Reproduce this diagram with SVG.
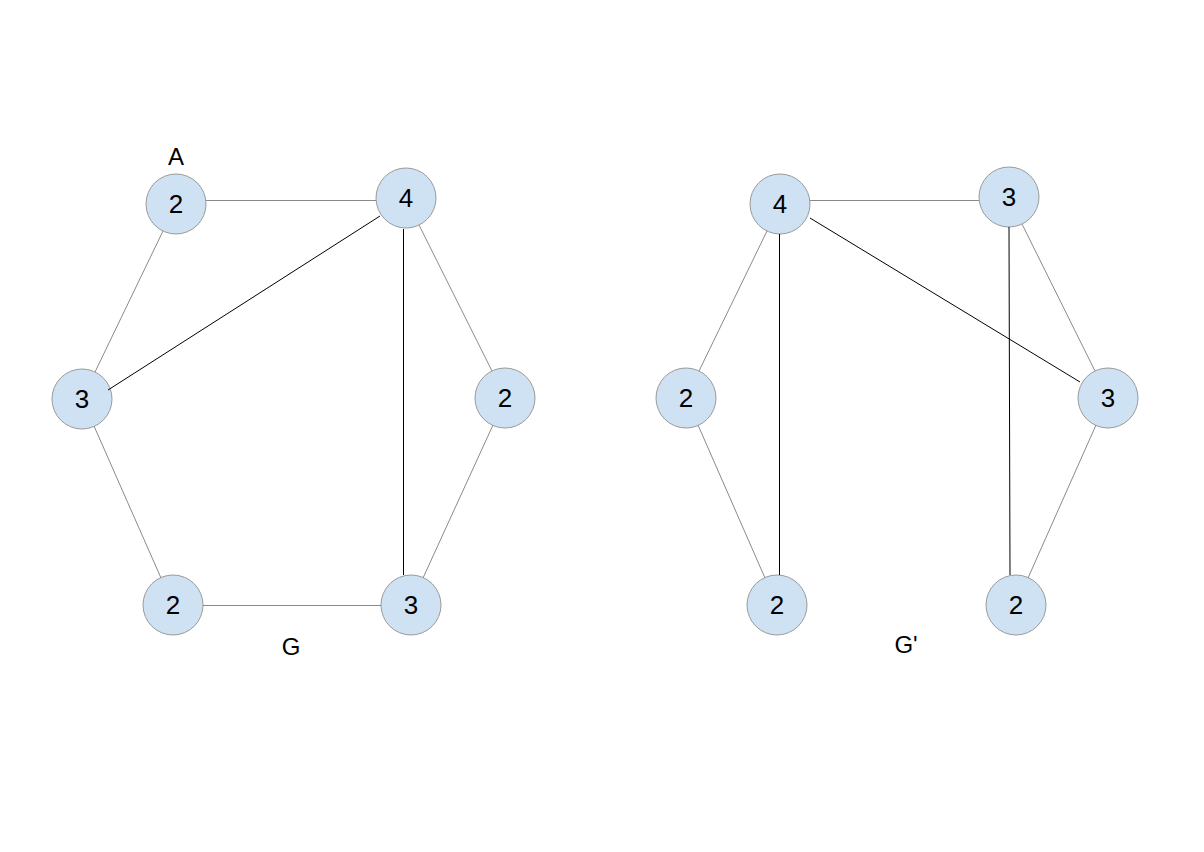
<svg xmlns="http://www.w3.org/2000/svg" width="1204" height="852" viewBox="0 0 1204 852">
<style>
.n{fill:#cfe2f3;stroke:#9a9a9a;stroke-width:1}
.d{font-family:"Liberation Sans",Arial,sans-serif;font-size:26px;text-anchor:middle;fill:#000}
.l{font-family:"Liberation Sans",Arial,sans-serif;font-size:24px;text-anchor:middle;fill:#000}
.g{stroke:#8a8a8a;stroke-width:1;fill:none}
.b{stroke:#000;stroke-width:1;fill:none}
</style>
<rect width="1204" height="852" fill="#fff"/>
<g id="nodes">
<g id="gA"><circle class="n" cx="176" cy="204" r="30"/><text class="d" x="176" y="213">2</text></g>
<g id="g4"><circle class="n" cx="406" cy="198" r="30"/><text class="d" x="406" y="207">4</text></g>
<g id="gL3"><circle class="n" cx="82" cy="399" r="30"/><text class="d" x="82" y="408">3</text></g>
<g id="gR2"><circle class="n" cx="505" cy="398" r="30"/><text class="d" x="505" y="407">2</text></g>
<g id="gBL2"><circle class="n" cx="173" cy="605" r="30"/><text class="d" x="173" y="614">2</text></g>
<g id="gBR3"><circle class="n" cx="411" cy="605" r="30"/><text class="d" x="411" y="614">3</text></g>
<g id="h4"><circle class="n" cx="780" cy="204" r="30"/><text class="d" x="780" y="213">4</text></g>
<g id="hT3"><circle class="n" cx="1009" cy="197" r="30"/><text class="d" x="1009" y="206">3</text></g>
<g id="hL2"><circle class="n" cx="686" cy="398" r="30"/><text class="d" x="686" y="407">2</text></g>
<g id="hR3"><circle class="n" cx="1108" cy="398" r="30"/><text class="d" x="1108" y="407">3</text></g>
<g id="hB2"><circle class="n" cx="777" cy="605" r="30"/><text class="d" x="777" y="614">2</text></g>
<g id="hBR2"><circle class="n" cx="1016" cy="605" r="30"/><text class="d" x="1016" y="614">2</text></g>
</g>
<g id="connectors">
<line class="g" x1="206" y1="200.5" x2="376" y2="200.5"/>
<line class="g" x1="163" y1="231" x2="95" y2="372"/>
<line class="g" x1="419" y1="225" x2="492" y2="371"/>
<line class="g" x1="493" y1="425" x2="423" y2="578"/>
<line class="g" x1="94" y1="426" x2="161" y2="578"/>
<line class="g" x1="203" y1="605.5" x2="381" y2="605.5"/>
<line class="b" x1="108" y1="390" x2="380" y2="216"/>
<line class="b" x1="403.5" y1="229" x2="403.5" y2="575"/>
<line class="g" x1="810" y1="200.5" x2="979" y2="200.5"/>
<line class="g" x1="767" y1="231" x2="699" y2="371"/>
<line class="g" x1="698" y1="425" x2="765" y2="578"/>
<line class="g" x1="1022" y1="224" x2="1095" y2="371"/>
<line class="g" x1="1096" y1="425" x2="1028" y2="578"/>
<line class="b" x1="779.5" y1="234" x2="779.5" y2="575"/>
<line class="b" x1="1009" y1="227" x2="1010" y2="575"/>
<line class="b" x1="810" y1="218" x2="1080" y2="382"/>
</g>
<g id="labels">
<text class="l" x="176" y="165">A</text>
<text class="l" x="291" y="655">G</text>
<text class="l" x="906" y="653">G'</text>
</g>
</svg>
